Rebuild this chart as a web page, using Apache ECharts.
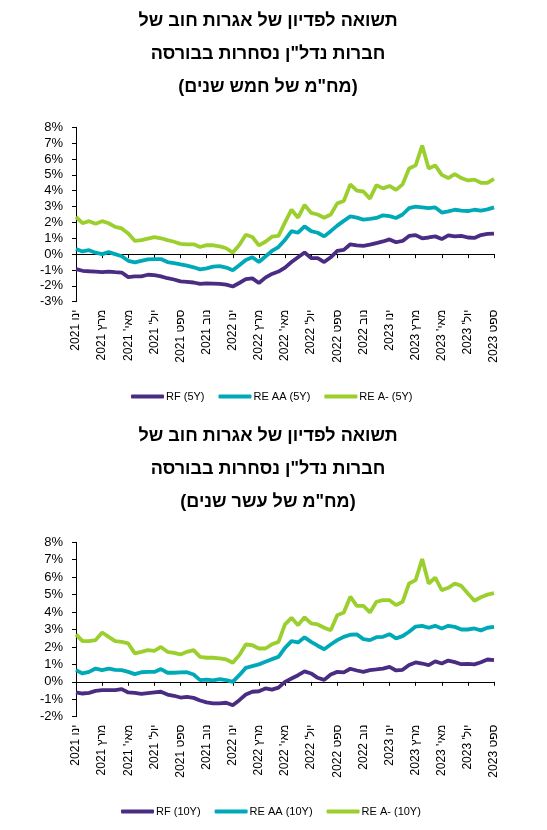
<!DOCTYPE html>
<html><head><meta charset="utf-8">
<script src="https://cdn.jsdelivr.net/npm/echarts@6/dist/echarts.min.js"></script>
<style>html,body{margin:0;padding:0;background:#fff}#c{width:547px;height:830px}</style>
</head><body><div id="c"></div>
<script>
const tickLabels = ["ינו 2021","מרץ 2021","מאי' 2021","יול' 2021","ספט 2021","נוב 2021",
  "ינו 2022","מרץ 2022","מאי' 2022","יול' 2022","ספט 2022","נוב 2022",
  "ינו 2023","מרץ 2023","מאי' 2023","יול' 2023","ספט 2023"];

// semi-monthly observation dates, Jan 2021 .. Sep 2023
const dates = [];
for (let m = 0; m <= 32; m++) {
  const y = 2021 + Math.floor(m / 12), mo = String(m % 12 + 1).padStart(2, '0');
  dates.push(y + '-' + mo + '-01');
  if (m < 32) dates.push(y + '-' + mo + '-16');
}

const titleTop = ["תשואה לפדיון של אגרות חוב של", "חברות נדל\"ן נסחרות בבורסה", "(מח\"מ של חמש שנים)"];
const titleBottom = ["תשואה לפדיון של אגרות חוב של", "חברות נדל\"ן נסחרות בבורסה", "(מח\"מ של עשר שנים)"];

const namesTop = ["RF (5Y)", "RE AA (5Y)", "RE A- (5Y)"];
const namesBottom = ["RF (10Y)", "RE AA (10Y)", "RE A- (10Y)"];

const rf5 = [-0.94,-1.05,-1.08,-1.10,-1.14,-1.10,-1.14,-1.16,-1.45,-1.40,
  -1.40,-1.30,-1.32,-1.40,-1.52,-1.60,-1.72,-1.75,-1.79,-1.88,
  -1.85,-1.86,-1.87,-1.92,-2.04,-1.82,-1.58,-1.53,-1.82,-1.48,
  -1.25,-1.10,-0.85,-0.50,-0.20,0.10,-0.25,-0.25,-0.50,-0.20,
  0.20,0.27,0.62,0.55,0.52,0.60,0.70,0.80,0.93,0.75,
  0.83,1.15,1.20,1.00,1.05,1.12,0.95,1.18,1.12,1.15,
  1.05,1.02,1.20,1.28,1.30];
const aa5 = [0.33,0.17,0.25,0.09,0.00,0.13,0.00,-0.13,-0.42,-0.52,
  -0.42,-0.33,-0.31,-0.31,-0.50,-0.56,-0.64,-0.72,-0.83,-0.96,
  -0.90,-0.79,-0.76,-0.85,-1.02,-0.70,-0.37,-0.20,-0.50,-0.15,
  0.20,0.45,0.90,1.45,1.35,1.75,1.45,1.35,1.12,1.45,
  1.80,2.10,2.38,2.30,2.18,2.22,2.28,2.45,2.40,2.28,
  2.50,2.90,3.00,2.95,2.90,2.95,2.62,2.70,2.80,2.75,
  2.72,2.80,2.75,2.82,2.95];
const am5 = [2.35,1.95,2.08,1.92,2.08,1.95,1.72,1.62,1.30,0.84,
  0.88,0.98,1.07,1.00,0.88,0.78,0.65,0.62,0.62,0.45,
  0.57,0.56,0.49,0.37,0.10,0.57,1.22,1.08,0.55,0.78,
  1.10,1.15,2.00,2.80,2.30,3.10,2.60,2.50,2.30,2.50,
  3.20,3.35,4.40,4.00,3.95,3.50,4.35,4.15,4.30,4.05,
  4.40,5.40,5.60,6.85,5.40,5.60,5.00,4.80,5.05,4.80,
  4.65,4.70,4.50,4.50,4.75];

const rf10 = [-0.61,-0.67,-0.63,-0.52,-0.48,-0.48,-0.48,-0.42,-0.61,-0.63,
  -0.69,-0.65,-0.61,-0.57,-0.73,-0.80,-0.90,-0.86,-0.92,-1.07,
  -1.18,-1.24,-1.24,-1.20,-1.34,-1.05,-0.73,-0.57,-0.54,-0.38,
  -0.45,-0.33,0.00,0.19,0.38,0.60,0.48,0.23,0.11,0.42,
  0.57,0.54,0.75,0.65,0.57,0.67,0.71,0.76,0.86,0.65,
  0.69,0.96,1.11,1.05,0.96,1.17,1.05,1.22,1.13,1.01,
  1.03,1.00,1.12,1.28,1.25];
const aa10 = [0.67,0.48,0.57,0.76,0.67,0.76,0.69,0.67,0.57,0.44,
  0.55,0.57,0.57,0.73,0.52,0.52,0.54,0.55,0.42,0.10,
  0.13,0.08,0.15,0.10,0.00,0.38,0.80,0.90,1.00,1.15,
  1.30,1.43,1.95,2.33,2.26,2.55,2.29,2.07,1.87,2.14,
  2.39,2.58,2.70,2.72,2.45,2.39,2.56,2.58,2.73,2.49,
  2.62,2.87,3.17,3.21,3.10,3.21,3.06,3.21,3.15,3.00,
  3.00,3.06,2.95,3.10,3.15];
const am10 = [2.72,2.33,2.33,2.39,2.83,2.58,2.33,2.29,2.20,1.63,
  1.72,1.82,1.78,2.00,1.72,1.66,1.57,1.72,1.82,1.43,
  1.38,1.38,1.34,1.28,1.09,1.53,2.14,2.10,1.91,1.91,
  2.15,2.29,3.29,3.67,3.25,3.70,3.35,3.29,3.10,2.96,
  3.82,3.98,4.88,4.36,4.36,3.98,4.59,4.68,4.68,4.40,
  4.59,5.64,5.83,7.04,5.64,5.97,5.26,5.39,5.64,5.50,
  5.07,4.65,4.85,5.00,5.08];

const colors = ['#4B2C83', '#00A9B7', '#9BCF2E'];
const FONT = "'Liberation Sans', Arial, 'DejaVu Sans', sans-serif";
const every = 4;
const isTick = (i) => i % every === 0;

function axesFor(gridIndex) {
  return [
    { type: 'category', gridIndex, data: dates, boundaryGap: false,
      axisLine: { show: true, onZero: true, lineStyle: { color: '#000', width: 1 } },
      axisTick: { show: true, interval: (i) => isTick(i), length: 4, lineStyle: { color: '#000' } },
      axisLabel: { show: false }, splitLine: { show: false } },
    { type: 'category', gridIndex, data: dates, boundaryGap: false, position: 'bottom',
      axisLine: { show: false, onZero: false }, axisTick: { show: false }, splitLine: { show: false },
      axisLabel: { show: true, interval: (i) => isTick(i), rotate: 90, margin: 8,
        fontSize: 12, color: '#000', fontFamily: FONT,
        formatter: (v, i) => tickLabels[i / every] } }
  ];
}
function yAxisFor(gridIndex, min) {
  return { type: 'value', gridIndex, min, max: 8, interval: 1,
    axisLine: { show: true, lineStyle: { color: '#000', width: 1 } },
    axisTick: { show: true, length: 4, lineStyle: { color: '#000' } },
    splitLine: { show: false },
    axisLabel: { formatter: '{value}%', fontSize: 13, color: '#000', margin: 13, fontFamily: FONT } };
}
function lineSeries(name, data, xi, yi, ci) {
  return { type: 'line', name, data, xAxisIndex: xi, yAxisIndex: yi, showSymbol: false,
    symbol: 'none', lineStyle: { width: 3.8, color: colors[ci] }, itemStyle: { color: colors[ci] } };
}
function titleGraphics(lines, y0) {
  return lines.map((t, k) => ({ type: 'text', x: 268, y: y0 + k * 33.2,
    style: { text: t, fontSize: 18, fontWeight: 'bold', fontFamily: FONT, fill: '#000',
      textAlign: 'center', textVerticalAlign: 'middle' } }));
}
function legendFor(names, left, top) {
  return { data: names, left, top, orient: 'horizontal', icon: 'roundRect',
    itemWidth: 33, itemHeight: 4, itemGap: 14,
    textStyle: { fontSize: 11, color: '#000', fontFamily: FONT, padding: [0, 0, 0, -3] } };
}

const chart = echarts.init(document.getElementById('c'), null, { renderer: 'canvas' });
chart.setOption({
  animation: false,
  backgroundColor: '#fff',
  textStyle: { fontFamily: FONT },
  graphic: titleGraphics(titleTop, 20.7).concat(titleGraphics(titleBottom, 435.7)),
  legend: [legendFor(namesTop, 126, 386), legendFor(namesBottom, 116, 801)],
  grid: [
    { left: 76, top: 127.3, width: 418, height: 174.4 },
    { left: 76, top: 542.3, width: 418, height: 174.4 }
  ],
  xAxis: axesFor(0).concat(axesFor(1)),
  yAxis: [yAxisFor(0, -3), yAxisFor(1, -2)],
  series: [
    lineSeries(namesTop[0], rf5, 0, 0, 0),
    lineSeries(namesTop[1], aa5, 0, 0, 1),
    lineSeries(namesTop[2], am5, 0, 0, 2),
    lineSeries(namesBottom[0], rf10, 2, 1, 0),
    lineSeries(namesBottom[1], aa10, 2, 1, 1),
    lineSeries(namesBottom[2], am10, 2, 1, 2)
  ]
});
</script></body></html>
